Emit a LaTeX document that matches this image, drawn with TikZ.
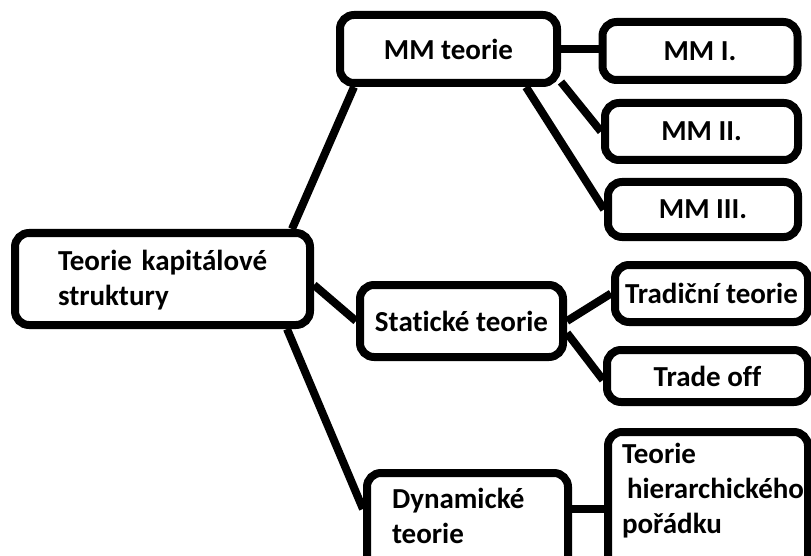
\documentclass[tikz,border=0pt]{standalone}
\usepackage{fontspec}
\setmainfont{Carlito}[Ligatures=NoCommon]
\tikzset{
  box/.style={draw, line width=8pt, rounded corners=14pt, inner sep=0pt,
    font=\bfseries\fontsize{29}{35}\selectfont},
  conn/.style={line width=8pt},
}
\begin{document}
\begin{tikzpicture}[x=1pt,y=-1pt]
\useasboundingbox (0,0) rectangle (811,556);
\clip (0,0) rectangle (811,556);
% boxes
\node[box, anchor=base, text width=209pt, align=left, minimum width=295pt, text height=37pt, text depth=55pt] (root) at (162.5,270) {Teorie~kapitálové\\struktury};
\node[box, minimum width=217pt, minimum height=68pt] (mm) at (448.5,49) {MM teorie};
\node[box, minimum width=195pt, minimum height=58pt] (mmI) at (700,51) {MM I.};
\node[box, minimum width=193pt, minimum height=57pt] (mmII) at (701.5,131.5) {MM II.};
\node[box, minimum width=190pt, minimum height=55pt] (mmIII) at (703,209.5) {MM III.};
\node[box, minimum width=203pt, minimum height=72pt] (stat) at (461.5,321) {Statické teorie};
\node[box, minimum width=193pt, minimum height=57pt] (trad) at (711.5,293.5) {Tradiční teorie};
\node[box, minimum width=201pt, minimum height=52pt] (trade) at (707.5,376) {Trade off};
\node[box, anchor=base, text width=151pt, align=left, minimum width=201pt, text height=35pt, text depth=82pt] (dyn) at (467.5,508) {Dynamické\\teorie};
\node[box, anchor=base, text width=172pt, align=left, minimum width=200pt, text height=31pt, text depth=117pt] (hier) at (708,463) {Teorie\\\hspace*{5pt}\mbox{hierarchického}\\pořádku};
% connectors
\draw[conn] ([xshift=-22pt]root.north east) -- ([xshift=18pt]mm.south west);
\draw[conn] ([yshift=-6pt]root.east) -- (stat.west);
\draw[conn] ([xshift=-27pt]root.south east) -- ([yshift=-40pt]dyn.north west);
\draw[conn] (mm.east) -- (mm.east -| mmI.west);
\draw[conn] ([yshift=5pt]mm.south east) -- (mmII.west);
\draw[conn] ([xshift=-35pt]mm.south east) -- (mmIII.west);
\draw[conn] (stat.east) -- (trad.west);
\draw[conn] ([yshift=-12pt]stat.east) -- ([yshift=-4pt]trade.west);
\draw[conn] ([yshift=-40pt]dyn.north east) -- ([yshift=-40pt]dyn.north east -| hier.west);
\end{tikzpicture}
\end{document}
